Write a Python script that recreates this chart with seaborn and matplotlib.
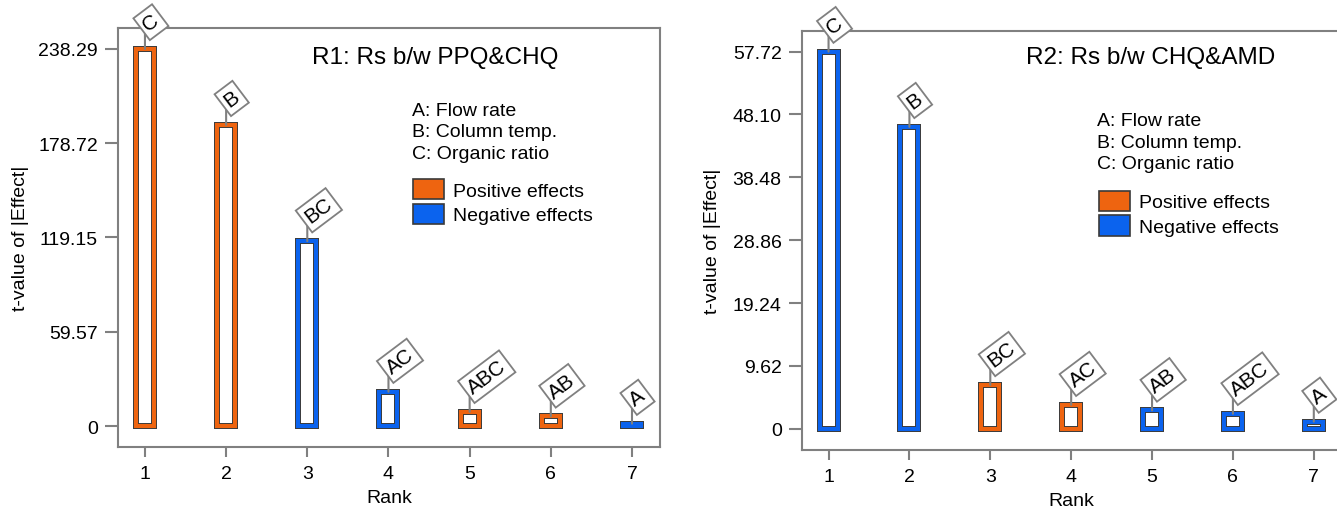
import numpy as np
import pandas as pd
import matplotlib
matplotlib.use("Agg")
import matplotlib.pyplot as plt
from matplotlib.patches import Patch
import seaborn as sns

# ---------------- data ----------------
ranks = [1, 2, 3, 4, 5, 6, 7]

r1_terms = ["C", "B", "BC", "AC", "ABC", "AB", "A"]
r1_tvalues = [238.29, 190.3, 116.8, 21.7, 9.0, 6.1, 1.5]
r1_signs = ["Positive", "Positive", "Negative", "Negative", "Positive", "Positive", "Negative"]
r1_yticks = [0, 59.57, 119.15, 178.72, 238.29]
r1_yticklabels = ["0", "59.57", "119.15", "178.72", "238.29"]
r1_title = "R1: Rs b/w PPQ&CHQ"

r2_terms = ["C", "B", "BC", "AC", "AB", "ABC", "A"]
r2_tvalues = [57.72, 46.2, 6.7, 3.67, 2.8, 2.29, 1.1]
r2_signs = ["Negative", "Negative", "Positive", "Positive", "Negative", "Negative", "Negative"]
r2_yticks = [0, 9.62, 19.24, 28.86, 38.48, 48.10, 57.72]
r2_yticklabels = ["0", "9.62", "19.24", "28.86", "38.48", "48.10", "57.72"]
r2_title = "R2: Rs b/w CHQ&AMD"

factor_lines = ["A: Flow rate", "B: Column temp.", "C: Organic ratio"]
effect_labels = ["Positive effects", "Negative effects"]
x_label = "Rank"
y_label = "t-value of |Effect|"

# ---------------- style ----------------
ORANGE = "#EE6410"
BLUE = "#0B63EE"
DARK = "#3A3A3A"
GRAY = "#808080"
palette = {"Positive": ORANGE, "Negative": BLUE}

sns.set_style("white")
plt.rcParams["font.family"] = ["Liberation Sans", "DejaVu Sans"]
plt.rcParams["text.color"] = "black"
plt.rcParams["axes.labelcolor"] = "black"
plt.rcParams["xtick.color"] = "black"
plt.rcParams["ytick.color"] = "black"

W, H = 1337, 510
fig = plt.figure(figsize=(W / 100, H / 100), dpi=100)


def draw_panel(rect, terms, tvalues, signs, yticks, yticklabels, title,
               title_pos, factor_pos, legend_pos, ylabel_x):
    ax = fig.add_axes(rect)
    df = pd.DataFrame({"rank": ranks, "t": tvalues, "sign": signs})
    bar_w = 0.222
    # outer dark outline layer
    sns.barplot(data=df, x="rank", y="t", color="white", native_scale=True,
                width=bar_w, errorbar=None, edgecolor=DARK, linewidth=4.3,
                saturation=1, ax=ax)
    n0 = len(ax.patches)
    # coloured band layer
    sns.barplot(data=df, x="rank", y="t", hue="sign", palette=palette,
                native_scale=True, dodge=False, width=bar_w, errorbar=None,
                saturation=1, legend=False, linewidth=2.9, ax=ax)
    for p in ax.patches[n0:]:
        fc = p.get_facecolor()
        p.set_edgecolor(fc)
        p.set_facecolor("none")
        p.set_linewidth(2.9)

    top = yticks[-1]
    ax.set_ylim(-0.0555 * top, 1.0555 * top)
    ax.set_xlim(0.668, 7.345)
    ax.set_xticks(ranks)
    ax.set_xticklabels([str(r) for r in ranks])
    ax.set_yticks(yticks)
    ax.set_yticklabels(yticklabels)

    for s in ax.spines.values():
        s.set_visible(True)
        s.set_color(GRAY)
        s.set_linewidth(1.5)
    ax.tick_params(axis="y", length=9.4, width=1.5, color=GRAY, pad=5,
                   labelsize=14, labelcolor="black", left=True)
    ax.tick_params(axis="x", length=7, width=1.5, color=GRAY, pad=6,
                   labelsize=14, labelcolor="black", bottom=True)

    ax.set_xlabel(x_label, fontsize=14, color="black")
    ax.set_ylabel(y_label, fontsize=14, color="black")
    ax.xaxis.set_label_coords(0.5, -0.1)
    ax.yaxis.set_label_coords(ylabel_x, 0.5)

    # effect labels with stems
    for r, v, t in zip(ranks, tvalues, terms):
        ax.annotate("", xy=(r, v), xytext=(0, 17), textcoords="offset points",
                    arrowprops=dict(arrowstyle="-", color=GRAY, lw=1.5,
                                    shrinkA=0, shrinkB=0),
                    annotation_clip=False, zorder=4)
        ax.annotate(t, xy=(r, v), xytext=(0, 16), textcoords="offset points",
                    rotation=37, rotation_mode="anchor", ha="left", va="center",
                    fontsize=15, color="black",
                    bbox=dict(boxstyle="square,pad=0.2", fc="white", ec=GRAY, lw=1.3),
                    annotation_clip=False, zorder=5)

    ax.text(title_pos[0], title_pos[1], title, transform=ax.transAxes,
            fontsize=17.5, ha="left", va="center", color="black")
    ax.text(factor_pos[0], factor_pos[1], "\n".join(factor_lines),
            transform=ax.transAxes, fontsize=14, ha="left", va="center",
            linespacing=1.33, color="black")
    handles = [Patch(facecolor=ORANGE, edgecolor=DARK, linewidth=1.2),
               Patch(facecolor=BLUE, edgecolor=DARK, linewidth=1.2)]
    ax.legend(handles, effect_labels, loc="upper left", bbox_to_anchor=legend_pos,
              frameon=False, fontsize=14, handlelength=1.6, handleheight=1.23,
              handletextpad=0.45, labelspacing=0.2, borderpad=0, borderaxespad=0,
              labelcolor="black")
    return ax


draw_panel([118 / W, 1 - 448 / H, 542 / W, 419 / H],
           r1_terms, r1_tvalues, r1_signs, r1_yticks, r1_yticklabels, r1_title,
           (0.358, 0.930), (0.5424, 0.7518), (0.5443, 0.6396), -0.164)
draw_panel([801.7 / W, 1 - 450.7 / H, 540 / W, 419 / H],
           r2_terms, r2_tvalues, r2_signs, r2_yticks, r2_yticklabels, r2_title,
           (0.4154, 0.9365), (0.5463, 0.7337), (0.5506, 0.618), -0.149)

fig.savefig("out.png", dpi=100)
